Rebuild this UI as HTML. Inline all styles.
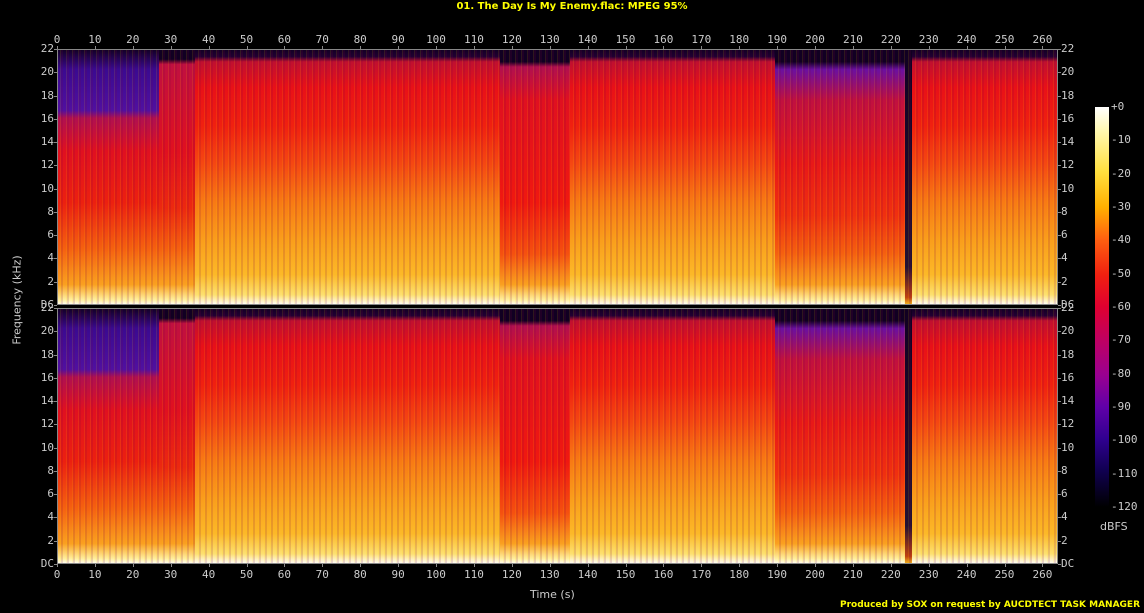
<!DOCTYPE html><html><head><style>
body{margin:0;background:#000;width:1144px;height:613px;overflow:hidden;position:relative;font-family:"DejaVu Sans Mono","Liberation Mono",monospace;color:#ccc;font-size:11px}
.a{position:absolute}
.p{position:absolute;left:57px;width:1001px;overflow:hidden}
.s{position:absolute;top:0;height:100%}
.t{position:absolute;font-size:11px;color:#ccc;white-space:nowrap}
</style></head><body>
<div class="a" style="left:0;width:1144px;top:1px;text-align:center;color:#ff0;font-weight:bold;font-family:'DejaVu Sans',sans-serif;font-size:10px">01. The Day Is My Enemy.flac: MPEG 95%</div>
<div id="c"></div>
<div class="a" style="left:1095px;top:107px;width:14px;height:400px;background:linear-gradient(#fff 0%,#fff8b0 6%,#ffe040 16%,#ffb000 25%,#ff6010 33%,#f02010 42%,#e00030 50%,#c00060 58%,#9a0090 67%,#6000a8 75%,#300090 83%,#100050 91%,#000 100%)"></div>
<div class="a" style="left:1100px;top:520px;font-size:11px;font-family:'DejaVu Sans',sans-serif">dBFS</div>
<div class="a" style="top:300px;transform:translate(-50%,-50%) rotate(-90deg);transform-origin:center;font-family:'DejaVu Sans',sans-serif;font-size:11px;left:17px">Frequency (kHz)</div>
<div class="a" style="left:530px;top:588px;font-family:'DejaVu Sans',sans-serif;font-size:11px">Time (s)</div>
<div class="a" style="right:4px;top:600px;color:#ff0;font-weight:bold;font-family:'DejaVu Sans',sans-serif;font-size:9px">Produced by SOX on request by AUCDTECT TASK MANAGER</div>
<script>
var c=document.getElementById('c'),h='';
var base='linear-gradient(#102 0%,#203 3%,#c01030 5%,#e81018 15%,#f02010 30%,#f54812 45%,#f87a14 60%,#fa9e1c 75%,#fcb828 88%,#fde070 96%,#fff 100%)';
var dark='linear-gradient(#102 0%,#3a0a90 8%,#5010a0 24%,#b01050 27%,#e01020 40%,#ec2010 60%,#f56010 78%,#faa020 92%,#fff0a0 98%,#fff 100%)';
var dark2='linear-gradient(#102 0%,#102 4%,#c01040 6%,#e01020 40%,#ec2810 62%,#f56010 78%,#faa020 92%,#fff0a0 98%,#fff 100%)';
var red='linear-gradient(#102 0%,#102 5%,#b01050 7%,#e01020 20%,#f01810 60%,#f55010 80%,#faa020 92%,#fff0a0 98%,#fff 100%)';
var mid='linear-gradient(#102 0%,#102 5%,#6a10a0 8%,#c01040 20%,#e81818 45%,#f03010 65%,#f56010 80%,#faa020 92%,#fff0a0 98%,#fff 100%)';
var stripe='repeating-linear-gradient(90deg,rgba(0,0,0,0) 0,rgba(0,0,0,0) 3px,rgba(255,200,0,0.12) 3px,rgba(255,200,0,0.12) 4px,rgba(120,0,60,0.15) 4px,rgba(120,0,60,0.15) 6px)';
var segs=[[0,102,dark],[102,138,dark2],[138,443,base],[443,513,red],[513,718,base],[718,848,mid],[848,855,'linear-gradient(#102,#213 85%,#c04010 97%,#f8c020)'],[855,1001,base]];
[[49,256],[308,256]].forEach(function(P){
 h+='<div class="p" style="top:'+P[0]+'px;height:'+P[1]+'px">';
 segs.forEach(function(s){h+='<div class="s" style="left:'+s[0]+'px;width:'+(s[1]-s[0])+'px;background:'+stripe+','+s[2]+'"></div>';});
 h+='</div>';
 h+='<div class="a" style="left:57px;top:'+P[0]+'px;width:1001px;height:'+P[1]+'px;box-sizing:border-box;border:1px solid #888"></div>';
 for(var k=0;k<=22;k+=2){var y=P[0]+P[1]-k*P[1]/22;var l=k==0?'DC':k;
  h+='<div class="t" style="left:26px;width:28px;text-align:right;top:'+(y-7)+'px">'+l+'</div><div class="t" style="left:1061px;top:'+(y-7)+'px">'+l+'</div>';
  h+='<div class="a" style="left:54px;width:3px;height:1px;background:#888;top:'+y+'px"></div><div class="a" style="left:1058px;width:3px;height:1px;background:#888;top:'+y+'px"></div>';}
});
for(var t=0;t<=260;t+=10){var x=57+t*3.79;
 h+='<div class="t" style="left:'+(x-15)+'px;width:30px;text-align:center;top:33px">'+t+'</div><div class="t" style="left:'+(x-15)+'px;width:30px;text-align:center;top:568px">'+t+'</div>';
 h+='<div class="a" style="left:'+x+'px;top:46px;width:1px;height:3px;background:#888"></div><div class="a" style="left:'+x+'px;top:564px;width:1px;height:3px;background:#888"></div>';}
for(var d=0;d<=120;d+=10){var y=107+d*3.333;
 h+='<div class="t" style="left:1111px;top:'+(y-7)+'px">'+(d==0?'+0':'-'+d)+'</div>';}
c.innerHTML=h;
</script>
</body></html>
